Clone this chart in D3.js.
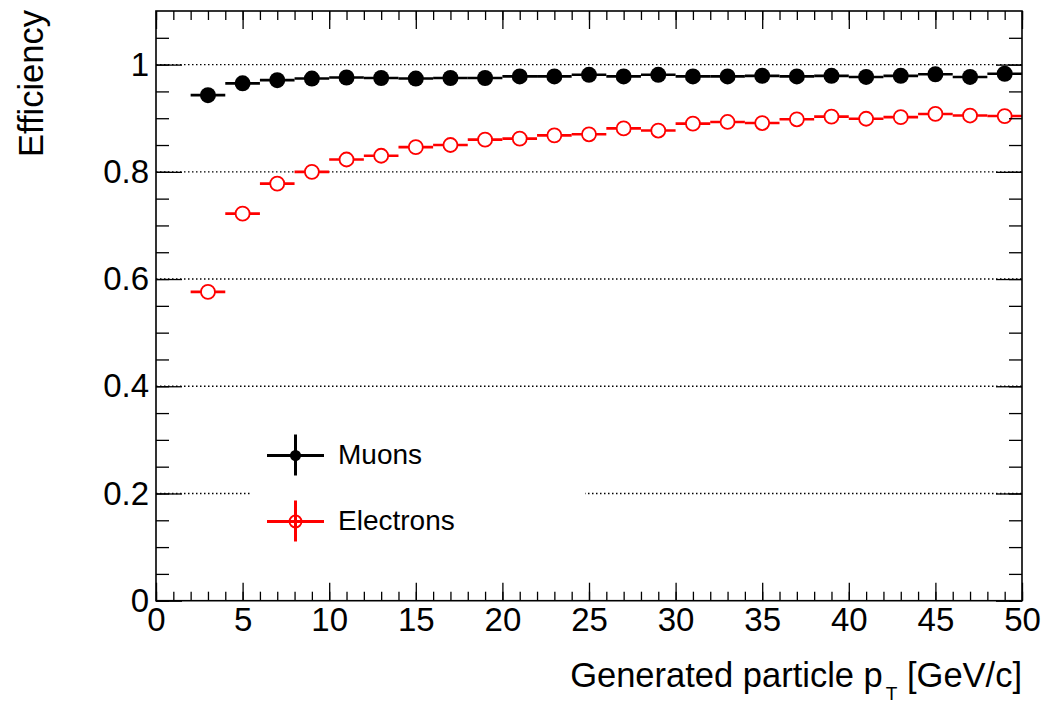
<!DOCTYPE html>
<html>
<head>
<meta charset="utf-8">
<script src="https://cdn.jsdelivr.net/npm/d3@7"></script>
<style>
  html, body { margin: 0; padding: 0; background: #fff; }
  svg { display: block; font-family: "Liberation Sans", Arial, Helvetica, sans-serif; }
</style>
</head>
<body>
<svg id="chart" width="1045" height="704"></svg>
<script>
// Bin centres of the generated-pT histogram (2 GeV/c bins from 2 to 50)
const ptBins = [3, 5, 7, 9, 11, 13, 15, 17, 19, 21, 23, 25, 27, 29, 31, 33, 35, 37, 39, 41, 43, 45, 47, 49];
const binHalfWidth = 1;

// Reconstruction efficiency per bin
const muonEff = [0.943, 0.965, 0.971, 0.974, 0.976, 0.975, 0.974, 0.975, 0.975, 0.978,
                 0.978, 0.981, 0.978, 0.981, 0.978, 0.978, 0.979, 0.978, 0.979, 0.977,
                 0.979, 0.982, 0.977, 0.983];
const electronEff = [0.576, 0.722, 0.778, 0.800, 0.823, 0.830, 0.846, 0.850, 0.860, 0.862,
                     0.868, 0.870, 0.881, 0.877, 0.890, 0.893, 0.891, 0.898, 0.903, 0.899,
                     0.902, 0.908, 0.905, 0.904];

// Axis tick values
const xMajorTicks = [0, 5, 10, 15, 20, 25, 30, 35, 40, 45, 50];
const xMinorTicks = [0,1,2,3,4,5,6,7,8,9,10,11,12,13,14,15,16,17,18,19,20,21,22,23,24,25,
                     26,27,28,29,30,31,32,33,34,35,36,37,38,39,40,41,42,43,44,45,46,47,48,49,50];
const yMajorTicks = [0, 0.2, 0.4, 0.6, 0.8, 1.0];
const yMinorTicks = [0, 0.05, 0.1, 0.15, 0.2, 0.25, 0.3, 0.35, 0.4, 0.45, 0.5, 0.55,
                     0.6, 0.65, 0.7, 0.75, 0.8, 0.85, 0.9, 0.95, 1.0, 1.05];
const yTickLabels = ["0", "0.2", "0.4", "0.6", "0.8", "1"];
const gridLevels = [0.2, 0.4, 0.6, 0.8, 1.0];

const series = [
  { name: "Muons", values: muonEff, color: "#000000", filled: true },
  { name: "Electrons", values: electronEff, color: "#ff0000", filled: false }
];

const svg = d3.select("#chart");
const plot = { left: 156, right: 1022, top: 11, bottom: 600.7 };

const x = d3.scaleLinear().domain([0, 50]).range([plot.left, plot.right]);
const y = d3.scaleLinear().domain([0, 1.1]).range([plot.bottom, plot.top]);

// Dotted horizontal grid
svg.append("g").selectAll("line").data(gridLevels).join("line")
  .attr("x1", plot.left).attr("x2", plot.right)
  .attr("y1", d => y(d)).attr("y2", d => y(d))
  .attr("stroke", "#000").attr("stroke-width", 1.4)
  .attr("stroke-dasharray", "1.5 2.5");

// Legend box (white fill, hides grid beneath)
svg.append("rect")
  .attr("x", 252).attr("y", 425).attr("width", 333).attr("height", 135)
  .attr("fill", "#fff");

// Data: horizontal bin-width bars with markers
series.forEach(s => {
  const g = svg.append("g");
  g.selectAll("line").data(ptBins).join("line")
    .attr("x1", (d) => x(d - binHalfWidth)).attr("x2", d => x(d + binHalfWidth))
    .attr("y1", (d, i) => y(s.values[i])).attr("y2", (d, i) => y(s.values[i]))
    .attr("stroke", s.color).attr("stroke-width", 2.6);
  g.selectAll("circle").data(ptBins).join("circle")
    .attr("cx", d => x(d)).attr("cy", (d, i) => y(s.values[i]))
    .attr("r", s.filled ? 8 : 7)
    .attr("fill", s.filled ? s.color : "#fff")
    .attr("stroke", s.filled ? "none" : s.color)
    .attr("stroke-width", 1.8);
});

// Frame
svg.append("rect")
  .attr("x", plot.left).attr("y", plot.top)
  .attr("width", plot.right - plot.left).attr("height", plot.bottom - plot.top)
  .attr("fill", "none").attr("stroke", "#000").attr("stroke-width", 1.6);

// Tick marks on all four sides (pointing inward)
function ticks(axisFn, scale, values, size, transform) {
  const g = svg.append("g").attr("transform", transform)
    .call(axisFn(scale).tickValues(values).tickSize(size).tickFormat(""));
  g.select(".domain").remove();
  g.selectAll(".tick line").attr("stroke", "#000").attr("stroke-width", 1.3);
}
ticks(d3.axisTop, x, xMinorTicks, 9, `translate(0,${plot.bottom})`);
ticks(d3.axisTop, x, xMajorTicks, 18, `translate(0,${plot.bottom})`);
ticks(d3.axisBottom, x, xMinorTicks, 9, `translate(0,${plot.top})`);
ticks(d3.axisBottom, x, xMajorTicks, 18, `translate(0,${plot.top})`);
ticks(d3.axisRight, y, yMinorTicks, 13, `translate(${plot.left},0)`);
ticks(d3.axisRight, y, yMajorTicks, 26, `translate(${plot.left},0)`);
ticks(d3.axisLeft, y, yMinorTicks, 13, `translate(${plot.right},0)`);
ticks(d3.axisLeft, y, yMajorTicks, 26, `translate(${plot.right},0)`);

// Tick labels
const xLab = svg.append("g").attr("transform", `translate(0,${plot.bottom})`)
  .call(d3.axisBottom(x).tickValues(xMajorTicks).tickSize(0).tickPadding(7).tickFormat(d3.format("d")));
xLab.select(".domain").remove();
xLab.selectAll("text").attr("font-size", 33).attr("font-family", "Liberation Sans, Arial, sans-serif").attr("fill", "#000");

const yLab = svg.append("g").attr("transform", `translate(${plot.left},0)`)
  .call(d3.axisLeft(y).tickValues(yMajorTicks).tickSize(0).tickPadding(7)
    .tickFormat((d, i) => yTickLabels[i]));
yLab.select(".domain").remove();
yLab.selectAll("text").attr("font-size", 33).attr("font-family", "Liberation Sans, Arial, sans-serif").attr("fill", "#000");

// Axis titles
svg.append("text")
  .attr("transform", "translate(43,10) rotate(-90)")
  .attr("text-anchor", "end").attr("font-size", 34.5).attr("fill", "#000")
  .text("Efficiency");

const xt = svg.append("text")
  .attr("x", plot.right).attr("y", 687)
  .attr("text-anchor", "end").attr("font-size", 34.5).attr("fill", "#000");
xt.append("tspan").text("Generated particle p");
xt.append("tspan").attr("dy", 13).attr("dx", 3).attr("font-size", 19).text("T");
xt.append("tspan").attr("dy", -13).text(" [GeV/c]");

// Legend entries
const legendRows = [
  { s: series[0], cy: 455.5, ty: 464 },
  { s: series[1], cy: 521.5, ty: 530 }
];
legendRows.forEach(r => {
  const g = svg.append("g");
  g.append("line").attr("x1", 267).attr("x2", 324).attr("y1", r.cy).attr("y2", r.cy)
    .attr("stroke", r.s.color).attr("stroke-width", 3);
  g.append("line").attr("x1", 295.5).attr("x2", 295.5).attr("y1", r.cy - 21).attr("y2", r.cy + 20)
    .attr("stroke", r.s.color).attr("stroke-width", 3);
  g.append("circle").attr("cx", 295.5).attr("cy", r.cy)
    .attr("r", r.s.filled ? 5.5 : 6)
    .attr("fill", r.s.filled ? r.s.color : "none")
    .attr("stroke", r.s.filled ? "none" : r.s.color).attr("stroke-width", 1.8);
  g.append("text").attr("x", 338).attr("y", r.ty)
    .attr("font-size", 28).attr("fill", "#000").text(r.s.name);
});
</script>
</body>
</html>
